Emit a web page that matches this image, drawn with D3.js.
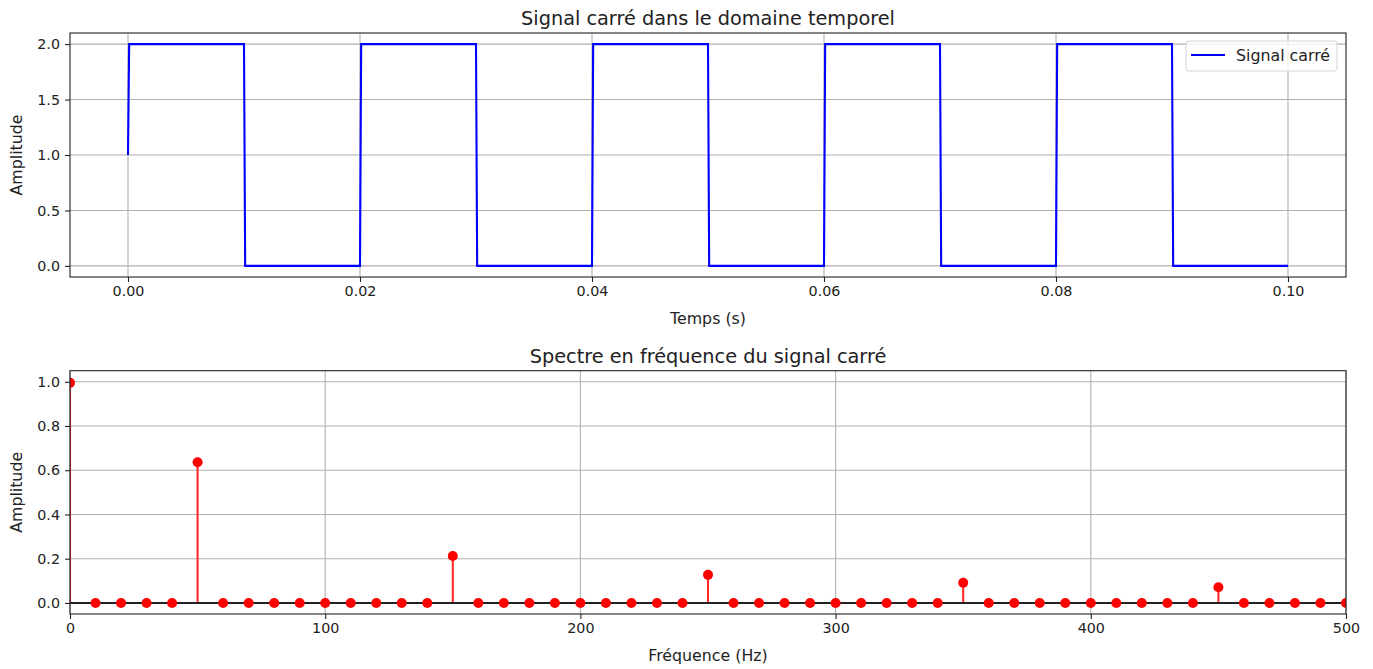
<!DOCTYPE html>
<html>
<head>
<meta charset="utf-8">
<script src="https://cdn.jsdelivr.net/npm/d3@7"></script>
<style>
  body { margin: 0; background: #fff; }
  text { font-family: "DejaVu Sans", sans-serif; fill: #222; }
  .grid line { stroke: #b0b0b0; stroke-width: 1.1; }
  .axis path { display: none; }
  .axis line { stroke: #222; stroke-width: 1.1; }
  .axis text { font-size: 14.3px; }
</style>
</head>
<body>
<script>
// Width and height of svg
var w = 1373;
var h = 669;

// time domain signal (vertices of the square wave)
var signalTime  = [0, 0.0001, 0.01, 0.0101, 0.02, 0.0201, 0.03, 0.0301, 0.04, 0.0401, 0.05, 0.0501,
                   0.06, 0.0601, 0.07, 0.0701, 0.08, 0.0801, 0.09, 0.0901, 0.1];
var signalValue = [1, 2, 2, 0, 0, 2, 2, 0, 0, 2, 2, 0, 0, 2, 2, 0, 0, 2, 2, 0, 0];
var timeTicks = [0, 0.02, 0.04, 0.06, 0.08, 0.10];
var ampTicks = [0, 0.5, 1.0, 1.5, 2.0];

// spectrum
var freqs = [0, 10, 20, 30, 40, 50, 60, 70, 80, 90, 100, 110, 120, 130, 140, 150, 160, 170, 180, 190,
             200, 210, 220, 230, 240, 250, 260, 270, 280, 290, 300, 310, 320, 330, 340, 350, 360, 370,
             380, 390, 400, 410, 420, 430, 440, 450, 460, 470, 480, 490, 500];
var spectrum = [0.995, 0, 0, 0, 0, 0.636, 0, 0, 0, 0, 0, 0, 0, 0, 0, 0.212, 0, 0, 0, 0,
                0, 0, 0, 0, 0, 0.127, 0, 0, 0, 0, 0, 0, 0, 0, 0, 0.091, 0, 0, 0,
                0, 0, 0, 0, 0, 0, 0.071, 0, 0, 0, 0, 0];
var freqTicks = [0, 100, 200, 300, 400, 500];
var specTicks = [0, 0.2, 0.4, 0.6, 0.8, 1.0];

var svg = d3.select("body").append("svg")
    .attr("width", w)
    .attr("height", h);

var left = 70, right = 1346;

// draws an axes frame with grid, ticks and labels, returns the plot group
function makeAxes(id, top, bottom, x, y, xTicks, yTicks, xFmt, yFmt, title, xLabel) {
    var g = svg.append("g");

    g.append("clipPath").attr("id", id)
      .append("rect")
        .attr("x", left).attr("y", top)
        .attr("width", right - left).attr("height", bottom - top);

    // grid
    g.append("g").attr("class", "grid")
      .selectAll("line.v").data(xTicks).enter().append("line")
        .attr("x1", function(d) { return x(d); }).attr("x2", function(d) { return x(d); })
        .attr("y1", top).attr("y2", bottom);
    g.append("g").attr("class", "grid")
      .selectAll("line.h").data(yTicks).enter().append("line")
        .attr("y1", function(d) { return y(d); }).attr("y2", function(d) { return y(d); })
        .attr("x1", left).attr("x2", right);

    // axes
    g.append("g").attr("class", "axis")
        .attr("transform", "translate(0," + bottom + ")")
        .call(d3.axisBottom(x).tickValues(xTicks).tickFormat(d3.format(xFmt)).tickSize(5).tickPadding(4));
    g.append("g").attr("class", "axis")
        .attr("transform", "translate(" + left + ",0)")
        .call(d3.axisLeft(y).tickValues(yTicks).tickFormat(d3.format(yFmt)).tickSize(5).tickPadding(5));

    // titles
    g.append("text")
        .attr("x", (left + right) / 2).attr("y", top - 8)
        .attr("text-anchor", "middle")
        .attr("font-size", "19.3px")
        .text(title);
    g.append("text")
        .attr("x", (left + right) / 2).attr("y", bottom + 47)
        .attr("text-anchor", "middle")
        .attr("font-size", "15.8px")
        .text(xLabel);
    g.append("text")
        .attr("transform", "translate(22," + (top + bottom) / 2 + ") rotate(-90)")
        .attr("text-anchor", "middle")
        .attr("font-size", "15.8px")
        .text("Amplitude");

    var plot = g.append("g").attr("clip-path", "url(#" + id + ")");

    // frame drawn after, so it stays on top
    g.append("rect")
        .attr("class", "frame")
        .attr("x", left).attr("y", top)
        .attr("width", right - left).attr("height", bottom - top)
        .attr("fill", "none").attr("stroke", "#222").attr("stroke-width", 1.1);
    return plot;
}

// ---- top: time domain ----
var x1 = d3.scaleLinear().domain([-0.005, 0.105]).range([left, right]);
var y1 = d3.scaleLinear().domain([-0.1, 2.1]).range([277, 33]);
var p1 = makeAxes("clipTop", 33, 277, x1, y1, timeTicks, ampTicks, ".2f", ".1f",
                  "Signal carré dans le domaine temporel", "Temps (s)");

var line = d3.line()
    .x(function(d, i) { return x1(signalTime[i]); })
    .y(function(d) { return y1(d); });

p1.append("path")
    .datum(signalValue)
    .attr("d", line)
    .attr("fill", "none")
    .attr("stroke", "#0000ff")
    .attr("stroke-width", 2.1)
    .attr("stroke-linejoin", "miter");

// legend
var lg = svg.append("g").attr("transform", "translate(1186,41)");
lg.append("rect")
    .attr("width", 151).attr("height", 30)
    .attr("rx", 3)
    .attr("fill", "#fff").attr("fill-opacity", 0.8)
    .attr("stroke", "#d5d5d5");
lg.append("line")
    .attr("x1", 5).attr("x2", 39).attr("y1", 14).attr("y2", 14)
    .attr("stroke", "#0000ff").attr("stroke-width", 2.1);
lg.append("text")
    .attr("x", 50).attr("y", 20)
    .attr("font-size", "15.8px")
    .text("Signal carré");

// ---- bottom: spectrum ----
var x2 = d3.scaleLinear().domain([0, 500]).range([left, right]);
var y2 = d3.scaleLinear().domain([-0.05, 1.05]).range([614, 370.7]);
var p2 = makeAxes("clipBottom", 370.7, 614, x2, y2, freqTicks, specTicks, "d", ".1f",
                  "Spectre en fréquence du signal carré", "Fréquence (Hz)");

p2.selectAll("line.stem")
    .data(spectrum)
    .enter().append("line")
    .attr("class", "stem")
    .attr("x1", function(d, i) { return x2(freqs[i]); })
    .attr("x2", function(d, i) { return x2(freqs[i]); })
    .attr("y1", y2(0))
    .attr("y2", function(d) { return y2(d); })
    .attr("stroke", "#ff2a2a")
    .attr("stroke-width", 2.1);

p2.append("line")
    .attr("x1", x2(0)).attr("x2", x2(500))
    .attr("y1", y2(0)).attr("y2", y2(0))
    .attr("stroke", "#222")
    .attr("stroke-width", 2.1);

p2.selectAll("circle")
    .data(spectrum)
    .enter().append("circle")
    .attr("cx", function(d, i) { return x2(freqs[i]); })
    .attr("cy", function(d) { return y2(d); })
    .attr("r", 5)
    .attr("fill", "#ff0000");
</script>
</body>
</html>
